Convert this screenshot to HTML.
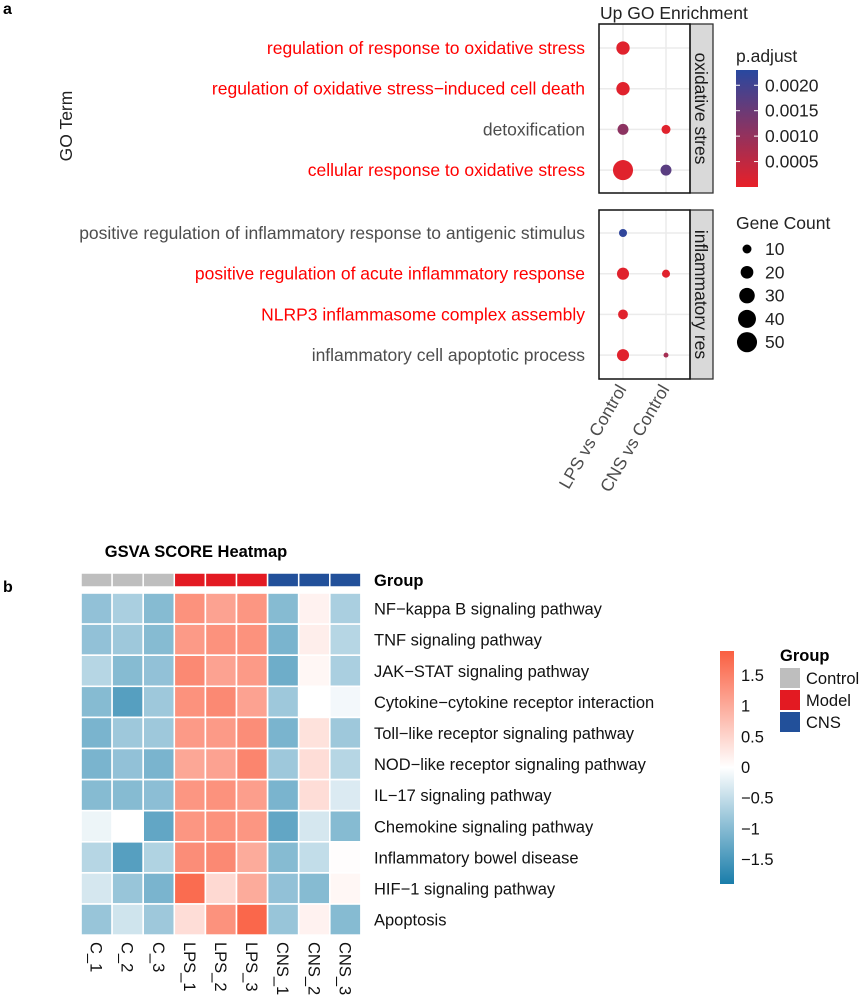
<!DOCTYPE html>
<html><head><meta charset="utf-8"><style>
body{margin:0;background:#fff;}
svg{display:block;font-family:"Liberation Sans",Arial,sans-serif;}
</style></head><body>
<svg id="fig" width="865" height="1001" viewBox="0 0 865 1001">
<text x="3" y="14" font-size="16" font-weight="bold">a</text>
<text x="3" y="592" font-size="16" font-weight="bold">b</text>
<text x="600" y="19" font-size="17.5" fill="#222">Up GO Enrichment</text>
<text transform="translate(72,126) rotate(-90)" text-anchor="middle" font-size="17.5" fill="#222">GO Term</text>
<g id="dots"></g>
<g id="heat"></g>
</svg>
<script>
const NS="http://www.w3.org/2000/svg";
function mk(tag,attrs,parent,text){const e=document.createElementNS(NS,tag);for(const k in attrs)e.setAttribute(k,attrs[k]);if(text!==undefined)e.textContent=text;parent.appendChild(e);return e;}

// ---------- Dot plot data ----------
const goTerms=["regulation of response to oxidative stress","regulation of oxidative stress\u2212induced cell death","detoxification","cellular response to oxidative stress","positive regulation of inflammatory response to antigenic stimulus","positive regulation of acute inflammatory response","NLRP3 inflammasome complex assembly","inflammatory cell apoptotic process"];
const goHighlight=[1,1,0,1,0,1,1,0];
const comparisons=["LPS vs Control","CNS vs Control"];
const countLPS=[22,22,15,50,8,18,12,18];
const countCNS=[0,0,10,15,0,8,0,3];
const padjLPS=[0.0001,0.0001,0.0011,0.0001,0.0022,0.0001,0.0001,0.0001];
const padjCNS=[0,0,0.0001,0.0017,0,0.0001,0,0.0008];
const facetNames=["oxidative stres","inflammatory res"];
const padjTicks=[0.0005,0.0010,0.0015,0.0020];
const countTicks=[10,20,30,40,50];

const FS=17.5;
const dg=document.getElementById('dots');
const colX=i=>623+i*43;
const rowY=i=> i<4 ? 48+i*40.7 : 233+(i-4)*40.7;
const rad=c=>Math.sqrt(c)*1.42;
function pcol(p){const t=Math.max(0,Math.min(1,p/0.0023));
 const a=[232,32,40],b=[40,72,160];
 return `rgb(${Math.round(a[0]+(b[0]-a[0])*t)},${Math.round(a[1]+(b[1]-a[1])*t)},${Math.round(a[2]+(b[2]-a[2])*t)})`;}
const panels=[[24,193],[210,379]];
panels.forEach((p,pi)=>{
 const pb=mk('rect',{x:599,y:p[0],width:91,height:p[1]-p[0],fill:'#fff'},dg);
 
 for(let c=0;c<2;c++){const l=mk('line',{x1:colX(c),x2:colX(c),y1:p[0],y2:p[1],stroke:'#ebebeb','stroke-width':1.5},dg);}
 for(let r=pi*4;r<pi*4+4;r++){const l=mk('line',{x1:599,x2:690,y1:rowY(r),y2:rowY(r),stroke:'#ebebeb','stroke-width':1.5},dg);}
 const st=mk('rect',{x:690,y:p[0],width:23,height:p[1]-p[0],fill:'#d9d9d9',stroke:'#333','stroke-width':1.3},dg);
 
 const stt=mk('text',{transform:`translate(695,${(p[0]+p[1])/2}) rotate(90)`,'text-anchor':'middle','font-size':FS,fill:'#1a1a1a'},dg,facetNames[pi]);
 
});
goTerms.forEach((t,i)=>{
 const tx=mk('text',{x:585,y:rowY(i)+6,'text-anchor':'end','font-size':FS,fill:goHighlight[i]?'#ff0000':'#4d4d4d'},dg,t);
 
 [[countLPS,padjLPS],[countCNS,padjCNS]].forEach((s,c)=>{
  if(s[0][i]>0){const d=mk('circle',{cx:colX(c),cy:rowY(i),r:rad(s[0][i]),fill:pcol(s[1][i])},dg);
   }
 });
});
panels.forEach(p=>{const b=mk('rect',{x:599,y:p[0],width:91,height:p[1]-p[0],fill:'none',stroke:'#111','stroke-width':1.5},dg);});
comparisons.forEach((c,i)=>{
 const tx=mk('text',{transform:`translate(${colX(i)+4},${389}) rotate(-60)`,'text-anchor':'end','font-size':FS,fill:'#4d4d4d'},dg,c);
 
});
// p.adjust legend
let lt=mk('text',{x:736,y:62,'font-size':FS,fill:'#222'},dg,'p.adjust');
const defs=mk('defs',{},dg);
const lg=mk('linearGradient',{id:'pg',x1:0,y1:1,x2:0,y2:0},defs);
mk('stop',{offset:0,'stop-color':pcol(0)},lg);mk('stop',{offset:1,'stop-color':pcol(0.0023)},lg);
const cb=mk('rect',{x:736,y:70,width:22,height:117,fill:'url(#pg)'},dg);
const pY=v=>187-v/0.0023*117;
padjTicks.forEach(v=>{
 mk('line',{x1:736,x2:740,y1:pY(v),y2:pY(v),stroke:'#fff'},dg);mk('line',{x1:754,x2:758,y1:pY(v),y2:pY(v),stroke:'#fff'},dg);
 const t=mk('text',{x:765,y:pY(v)+6,'font-size':FS,fill:'#222'},dg,v.toFixed(4));
});
lt=mk('text',{x:736,y:229,'font-size':FS,fill:'#222'},dg,'Gene Count');
countTicks.forEach((v,i)=>{
 const y=249+i*23.3;
 const c=mk('circle',{cx:747,cy:y,r:rad(v),fill:'#000'},dg);
 const t=mk('text',{x:765,y:y+6,'font-size':FS,fill:'#222'},dg,String(v));
});

// ---------- Heatmap data ----------
const samples=["C_1","C_2","C_3","LPS_1","LPS_2","LPS_3","CNS_1","CNS_2","CNS_3"];
const sampleGroup=[0,0,0,1,1,1,2,2,2];
const groupNames=["Control","Model","CNS"];
const pathways=["NF\u2212kappa B signaling pathway","TNF signaling pathway","JAK\u2212STAT signaling pathway","Cytokine\u2212cytokine receptor interaction","Toll\u2212like receptor signaling pathway","NOD\u2212like receptor signaling pathway","IL\u221217 signaling pathway","Chemokine signaling pathway","Inflammatory bowel disease","HIF\u22121 signaling pathway","Apoptosis"];
const scores=[
[-0.9,-0.7,-1.0,1.3,1.1,1.25,-1.0,0.15,-0.7],
[-0.9,-0.8,-1.0,1.2,1.3,1.3,-1.1,0.2,-0.6],
[-0.6,-1.0,-0.9,1.4,1.1,1.2,-1.2,0.1,-0.7],
[-1.0,-1.4,-0.8,1.3,1.4,1.1,-0.8,0.0,-0.1],
[-1.1,-0.8,-0.8,1.2,1.2,1.35,-1.1,0.35,-0.8],
[-1.1,-0.9,-1.1,1.05,1.1,1.45,-0.8,0.4,-0.6],
[-1.0,-1.0,-0.95,1.25,1.3,1.15,-1.1,0.4,-0.3],
[-0.15,0.0,-1.3,1.25,1.3,1.25,-1.3,-0.35,-1.0],
[-0.6,-1.4,-0.65,1.35,1.4,1.0,-1.0,-0.5,0.02],
[-0.35,-0.85,-1.1,1.75,0.45,1.0,-0.9,-1.0,0.1],
[-0.85,-0.4,-0.8,0.4,1.3,1.8,-0.85,0.15,-1.0]];
const scaleTicks=[1.5,1,0.5,0,-0.5,-1,-1.5];
const groupColors=["#bebebe","#e31a22","#22509a"];

const HF=16.5;
const hg=document.getElementById('heat');
const cw=31.1,ch=31.1,hx=81,hy=593;
const cx=j=>hx+j*cw, cy=i=>hy+i*ch;
function hcol(v){const t=Math.max(-1.9,Math.min(1.9,v))/1.9;
 const r=[250,95,65],b=[25,125,170];const e=t>=0?r:b;const a=Math.abs(t);
 return `rgb(${Math.round(255+(e[0]-255)*a)},${Math.round(255+(e[1]-255)*a)},${Math.round(255+(e[2]-255)*a)})`;}
let t=mk('text',{x:196,y:557,'text-anchor':'middle','font-size':HF,'font-weight':'bold'},hg,'GSVA SCORE Heatmap');
samples.forEach((s,j)=>{
 const g=mk('rect',{x:cx(j),y:573,width:cw,height:14,fill:groupColors[sampleGroup[j]],stroke:'#fff','stroke-width':1.5},hg);
 
 const l=mk('text',{transform:`translate(${cx(j)+cw/2-6},942) rotate(90)`,'font-size':HF,fill:'#111'},hg,s);
 
});
t=mk('text',{x:374,y:586,'font-size':HF,'font-weight':'bold'},hg,'Group');
pathways.forEach((p,i)=>{
 scores[i].forEach((v,j)=>{
  const c=mk('rect',{x:cx(j),y:cy(i),width:cw,height:ch,fill:hcol(v),stroke:'#fff','stroke-width':1.6},hg);
  
 });
 const l=mk('text',{x:374,y:cy(i)+ch/2+6,'font-size':HF,fill:'#111'},hg,p);
 
});
const hgd=mk('linearGradient',{id:'hgr',x1:0,y1:1,x2:0,y2:0},defs);
[-1.9,0,1.9].forEach((v,k)=>mk('stop',{offset:k/2,'stop-color':hcol(v)},hgd));
const sb=mk('rect',{x:720,y:651,width:14,height:233,fill:'url(#hgr)'},hg);
const sY=v=>767-v*61.4;
scaleTicks.forEach(v=>{
 const lab=v<0?'\u2212'+Math.abs(v):String(v);
 const tt=mk('text',{x:741,y:sY(v)+6,'font-size':HF,fill:'#111'},hg,lab);
});
t=mk('text',{x:780,y:661,'font-size':HF,'font-weight':'bold'},hg,'Group');
groupNames.forEach((g,k)=>{
 const r=mk('rect',{x:780,y:668+k*22,width:20,height:20,fill:groupColors[k]},hg);
 const l=mk('text',{x:806,y:684+k*22,'font-size':HF,fill:'#111'},hg,g);
});
</script>
</body></html>
